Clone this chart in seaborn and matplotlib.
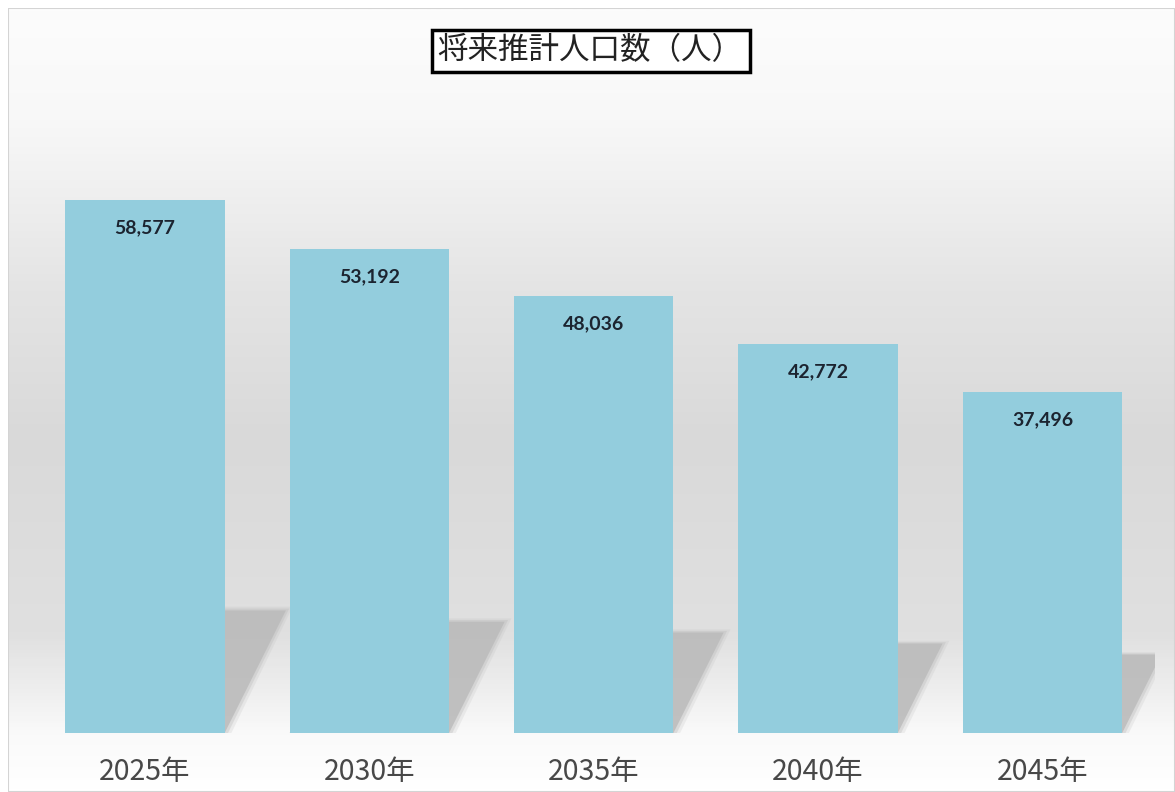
import matplotlib
matplotlib.use("Agg")
import matplotlib.pyplot as plt
import numpy as np
import pandas as pd
import seaborn as sns
from matplotlib.colors import LinearSegmentedColormap
from matplotlib.patches import Polygon, Rectangle


# ---------------------------------------------------------
# Data
# ---------------------------------------------------------

years = ["2025年", "2030年", "2035年", "2040年", "2045年"]
population = [58577, 53192, 48036, 42772, 37496]
title = "将来推計人口数（人）"

bar_color = "#93cddd"
shadow_color = "#bababa"


# ---------------------------------------------------------
# Figure
# ---------------------------------------------------------

sns.set_style("white")
plt.rcParams["font.family"] = ["Noto Sans CJK JP", "DejaVu Sans"]

W, H = 1175, 792
fig = plt.figure(figsize=(W / 100, H / 100), dpi=100)
fig.patch.set_facecolor("white")

# background panel with vertical gray gradient
bg = fig.add_axes([8 / W, 0, 1 - 8 / W, 1 - 8 / H])
bg.set_axis_off()
stops = [
    (0.00, "#fcfcfc"),
    (0.14, "#f8f8f8"),
    (0.36, "#e4e4e4"),
    (0.55, "#d9d9d9"),
    (0.80, "#e0e0e0"),
    (0.93, "#fafafa"),
    (1.00, "#ffffff"),
]
cmap = LinearSegmentedColormap.from_list("bg", stops)
grad = np.linspace(0, 1, 400).reshape(-1, 1)
bg.imshow(grad, aspect="auto", cmap=cmap, extent=[0, 1, 0, 1], origin="upper")
bg.add_patch(Rectangle((0, 0), 1, 1, transform=bg.transAxes, fill=False,
                       edgecolor="#d4d4d4", linewidth=1.5))
bg.set_xlim(0, 1)
bg.set_ylim(0, 1)

# main axes
left_px, right_px = 32.8, 1154.7
bottom_px, top_px = 733, 100
ax = fig.add_axes([left_px / W, (H - bottom_px) / H,
                   (right_px - left_px) / W, (bottom_px - top_px) / H])
ax.patch.set_alpha(0)

df = pd.DataFrame({"year": years, "population": population})

ymax = 69566
px_per_unit = (bottom_px - top_px) / ymax
ax.set_xlim(-0.5, 4.5)
ax.set_ylim(0, ymax)

# soft shadows behind the bars (a few stacked layers to fake a blur)
bw = 0.71
x_px = (right_px - left_px) / 5
for i, v in enumerate(population):
    h = 0.23 * v
    dx = 0.5 * h * px_per_unit / x_px
    x0, x1 = i - bw / 2, i + bw / 2
    for grow, a in [(0.03, 0.2), (0.015, 0.35), (0.0, 0.8)]:
        g = grow * x_px / 224
        poly = Polygon(
            [(x0, 0), (x1 + g, 0), (x1 + dx + g, h * (1 + grow)),
             (x0 + dx, h * (1 + grow))],
            closed=True, facecolor=shadow_color, edgecolor="none",
            alpha=a, zorder=1,
        )
        ax.add_patch(poly)

sns.barplot(
    data=df,
    x="year",
    y="population",
    color=bar_color,
    saturation=1,
    width=bw,
    linewidth=0,
    ax=ax,
    zorder=3,
)

for i, v in enumerate(population):
    ax.annotate(
        f"{v:,}",
        xy=(i, v),
        xytext=(0, -20),
        textcoords="offset points",
        ha="center",
        va="center",
        fontsize=14,
        fontweight="bold",
        family=["Lato", "DejaVu Sans"],
        color="#1c2430",
        zorder=5,
    )

ax.set_xlabel("")
ax.set_ylabel("")
ax.set_yticks([])
ax.tick_params(axis="x", length=0, pad=17, labelsize=20.5, labelcolor="#484848")
sns.despine(ax=ax, left=True, bottom=True)

# boxed title
fig.patches.append(Rectangle((432 / W, 1 - 72 / H), 318 / W, 42 / H,
                             transform=fig.transFigure, facecolor="white",
                             edgecolor="black", linewidth=2.5, zorder=4))
fig.text(
    437 / W, 1 - 51 / H, title,
    ha="left", va="center", fontsize=22, color="#222222", zorder=5,
)

fig.savefig("out.png", dpi=100)
